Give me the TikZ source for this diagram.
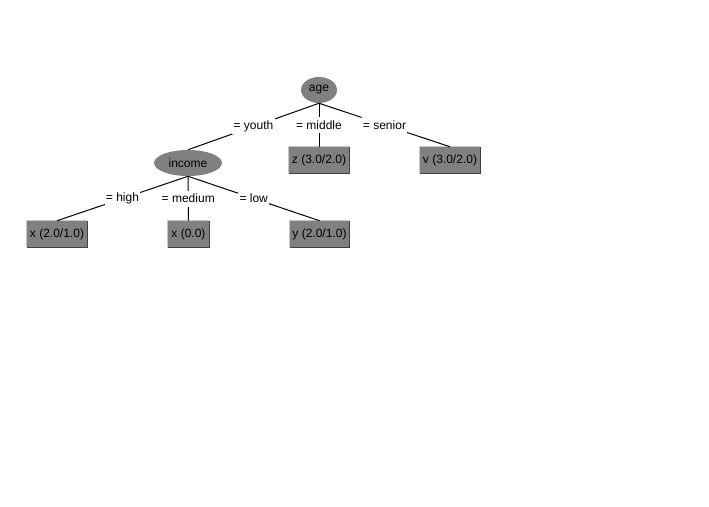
\documentclass[tikz,border=0pt]{standalone}
\usepackage{fontspec}
\setmainfont{Liberation Sans}
\usetikzlibrary{shapes.geometric}
\definecolor{wgray}{HTML}{808080}
\definecolor{wlight}{HTML}{C8C8C8}
\definecolor{wdark}{HTML}{404040}
\tikzset{
  every node/.style={font=\fontsize{9}{10}\selectfont},
  inode/.style={ellipse, fill=wgray, inner sep=0pt, minimum height=19.5pt},
  leaf/.style={rectangle, fill=wgray, inner sep=0pt, minimum height=19.5pt},
  lbl/.style={fill=white, inner xsep=1pt, inner ysep=0pt, minimum height=12pt},
  edge/.style={draw=black, line width=0.75pt}
}
\begin{document}
\begin{tikzpicture}[x=0.75pt,y=-0.75pt]
\useasboundingbox (0,0) rectangle (709,506);
\node[inode, minimum width=27pt] (age) at (319,90) {age};
\node[inode, minimum width=51pt] (income) at (188,163) {income};
\node[leaf, minimum width=45pt] (z) at (319,160) {z (3.0/2.0)};
\node[leaf, minimum width=45pt] (v) at (450,160) {v (3.0/2.0)};
\node[leaf, minimum width=45pt] (xa) at (57,234) {x (2.0/1.0)};
\node[leaf, minimum width=31pt] (xb) at (188.5,234) {x (0.0)};
\node[leaf, minimum width=44.5pt] (y) at (319.5,234) {y (2.0/1.0)};
\foreach \n in {z,v,xa,xb,y}{
  \draw[wlight, line width=0.75pt] (\n.south west) -- (\n.north west) -- (\n.north east);
  \draw[wdark, line width=0.75pt] (\n.south west) -- (\n.south east) -- (\n.north east);
}
\draw[edge] (age.south) -- (income.north) node[midway, lbl] {= youth};
\draw[edge] (age.south) -- (z.north) node[midway, lbl] {= middle};
\draw[edge] (age.south) -- (v.north) node[midway, lbl] {= senior};
\draw[edge] (income.south) -- (xa.north) node[midway, lbl] {= high};
\draw[edge] (income.south) -- (xb.north) node[midway, lbl] {= medium};
\draw[edge] (income.south) -- (y.north) node[midway, lbl] {= low};
\end{tikzpicture}
\end{document}
